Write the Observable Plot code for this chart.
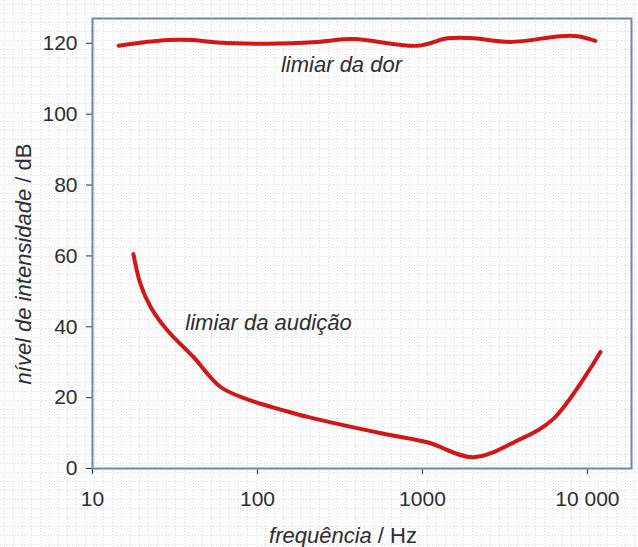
<!DOCTYPE html>
<html>
<head>
<meta charset="utf-8">
<script src="https://cdn.jsdelivr.net/npm/d3@7"></script>
<script src="https://cdn.jsdelivr.net/npm/@observablehq/plot@0.6"></script>
<style>
  html, body { margin: 0; padding: 0; width: 638px; height: 547px; overflow: hidden; }
  body {
    background-color: #fdfdfd;
    background-image: url("data:image/svg+xml;utf8,<svg xmlns='http://www.w3.org/2000/svg' width='9' height='9'><path d='M0 4.5H9' stroke='%23d9dde3' stroke-width='1' stroke-dasharray='1 2'/><path d='M4.5 0V9' stroke='%23d9dde3' stroke-width='1' stroke-dasharray='1 2'/></svg>");
  }
  #chart svg { display: block; }
</style>
</head>
<body>
<div id="chart"></div>
<script>
// ---- data ----
const painFreq = [14.4, 28.5, 41, 57, 115, 231, 382, 933, 1419, 1955, 3412, 6855, 8690, 11170];
const painDb   = [119.3, 120.9, 120.9, 120.2, 119.9, 120.4, 121.2, 119.3, 121.4, 121.5, 120.4, 122.0, 122.0, 120.7];

const hearFreq = [17.7, 19.5, 22.5, 28.4, 41, 59.7, 90.8, 144, 204, 582, 1071, 2038, 3763, 6220, 12000];
const hearDb   = [60.5, 52.2, 45.6, 39, 31.4, 23, 19.2, 16.4, 14.5, 9.8, 7.4, 3.2, 7.9, 14, 32.9];

const xTicks = [10, 100, 1000, 10000];
const xTickLabels = ["10", "100", "1000", "10 000"];
const yTicks = [0, 20, 40, 60, 80, 100, 120];

const labelTexts = ["limiar da dor", "limiar da audição"];
const labelFreq = [323, 116.6];
const labelDb = [111.9, 39];

const yTitleItalic = "nível de intensidade";
const yTitleRest = " / dB";
const xTitleItalic = "frequência";
const xTitleRest = " / Hz";

// ---- tables ----
const pain = painFreq.map((f, i) => ({f, db: painDb[i]}));
const hear = hearFreq.map((f, i) => ({f, db: hearDb[i]}));
const labels = labelTexts.map((t, i) => ({t, f: labelFreq[i], db: labelDb[i]}));

const FONT = "'Liberation Sans', Arial, sans-serif";
const RED = "#d31616";

const plot = Plot.plot({
  width: 638,
  height: 547,
  marginLeft: 92,
  marginRight: 7,
  marginTop: 18,
  marginBottom: 79,
  style: {background: "transparent", fontFamily: FONT, fontSize: "21px", color: "#2e2e2e"},
  x: {
    type: "log",
    domain: [10, 18500],
    ticks: xTicks,
    tickFormat: d => xTickLabels[xTicks.indexOf(d)],
    tickSize: 6,
    tickPadding: 17,
    label: null
  },
  y: {
    domain: [0, 127],
    ticks: yTicks,
    tickSize: 6,
    tickPadding: 9,
    label: null
  },
  marks: [
    Plot.frame({stroke: "#7286a6", strokeWidth: 2}),
    Plot.line(pain, {x: "f", y: "db", stroke: RED, strokeWidth: 4, curve: "catmull-rom"}),
    Plot.line(hear, {x: "f", y: "db", stroke: RED, strokeWidth: 4, curve: "catmull-rom"}),
    Plot.text(labels, {x: "f", y: "db", text: "t", fontStyle: "italic", fontSize: 22, fill: "#2e2e2e", lineAnchor: "bottom", textAnchor: "middle"})
  ]
});

document.getElementById("chart").appendChild(plot);

const svg = d3.select(plot);

const yt = svg.append("text")
  .attr("transform", "translate(31,264) rotate(-90)")
  .attr("text-anchor", "middle")
  .attr("fill", "#2e2e2e")
  .style("font-family", FONT)
  .style("font-size", "22px");
yt.append("tspan").style("font-style", "italic").text(yTitleItalic);
yt.append("tspan").text(yTitleRest);

const xt = svg.append("text")
  .attr("transform", "translate(343,543)")
  .attr("text-anchor", "middle")
  .attr("fill", "#2e2e2e")
  .style("font-family", FONT)
  .style("font-size", "22px");
xt.append("tspan").style("font-style", "italic").text(xTitleItalic);
xt.append("tspan").text(xTitleRest);
</script>
</body>
</html>
